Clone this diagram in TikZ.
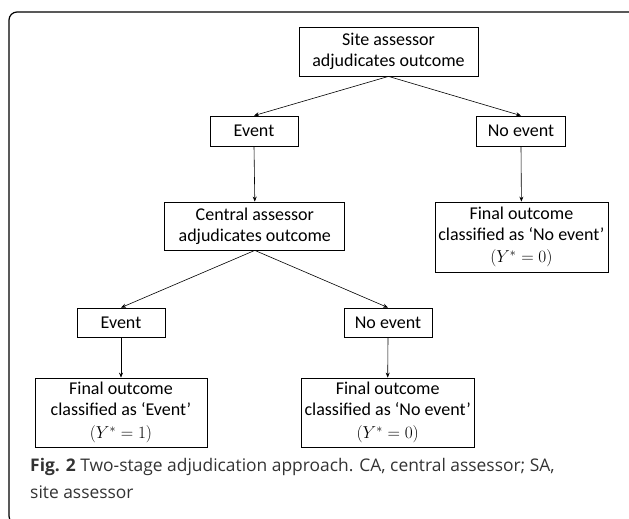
\documentclass[tikz,border=0pt]{standalone}
\usepackage{fontspec}
\setmainfont{Carlito}
\newfontfamily\capfont{Open Sans}
\usetikzlibrary{arrows.meta}
\tikzset{
  box/.style={draw, line width=0.8pt, align=center, inner sep=0pt,
    font=\fontsize{18}{21}\selectfont},
  arr/.style={line width=0.6pt, -{Stealth[length=5pt,width=4pt]}},
  captext/.style={anchor=base west, inner sep=0pt, text=black!80,
    font=\capfont\fontsize{17.4}{27}\selectfont}
}
\begin{document}
\begin{tikzpicture}[x=1pt,y=-1pt]
\useasboundingbox (0,0) rectangle (629,519);
\begin{scope}
\clip (0,0) rectangle (629,519);
\draw[line width=1.2pt, rounded corners=8pt] (9,12) rectangle (640,524);
\end{scope}
\node[box, minimum width=179pt, minimum height=49pt] (sa) at (388.5,51.5) {Site assessor\\adjudicates outcome};
\node[box, minimum width=88pt, minimum height=30pt] (ev1) at (254,131) {Event};
\node[box, minimum width=89pt, minimum height=30pt] (ne1) at (521,131) {No event};
\node[box, minimum width=180pt, minimum height=48pt] (ca) at (254.8,226) {Central assessor\\adjudicates outcome};
\node[box, minimum width=173pt, minimum height=70pt] (fr) at (521.4,237) {Final outcome\\classified as ‘No event’\\[1.5pt]$(Y^{*}=0)$};
\node[box, minimum width=88pt, minimum height=29pt] (ev2) at (121,322.5) {Event};
\node[box, minimum width=88pt, minimum height=29pt] (ne2) at (388,322.5) {No event};
\node[box, minimum width=172pt, minimum height=69pt] (fe) at (121,412.5) {Final outcome\\classified as ‘Event’\\[1.5pt]$(Y^{*}=1)$};
\node[box, minimum width=173pt, minimum height=69pt] (fn) at (387.7,412.5) {Final outcome\\classified as ‘No event’\\[1.5pt]$(Y^{*}=0)$};
\draw[arr] (sa.south) -- (ev1.north);
\draw[arr] (sa.south) -- (ne1.north);
\draw[arr] (ev1.south) -- (ca.north);
\draw[arr] (ne1.south) -- (fr.north);
\draw[arr] (ca.south) -- (ev2.north);
\draw[arr] (ca.south) -- (ne2.north);
\draw[arr] (ev2.south) -- (fe.north);
\draw[arr] (ne2.south) -- (fn.north);
\node[captext] (cap1) at (30,471) {\textbf{Fig. 2} Two-stage adjudication approach. CA, central assessor; SA,};
\node[captext] (cap2) at (30,498) {site assessor};
\end{tikzpicture}
\end{document}
